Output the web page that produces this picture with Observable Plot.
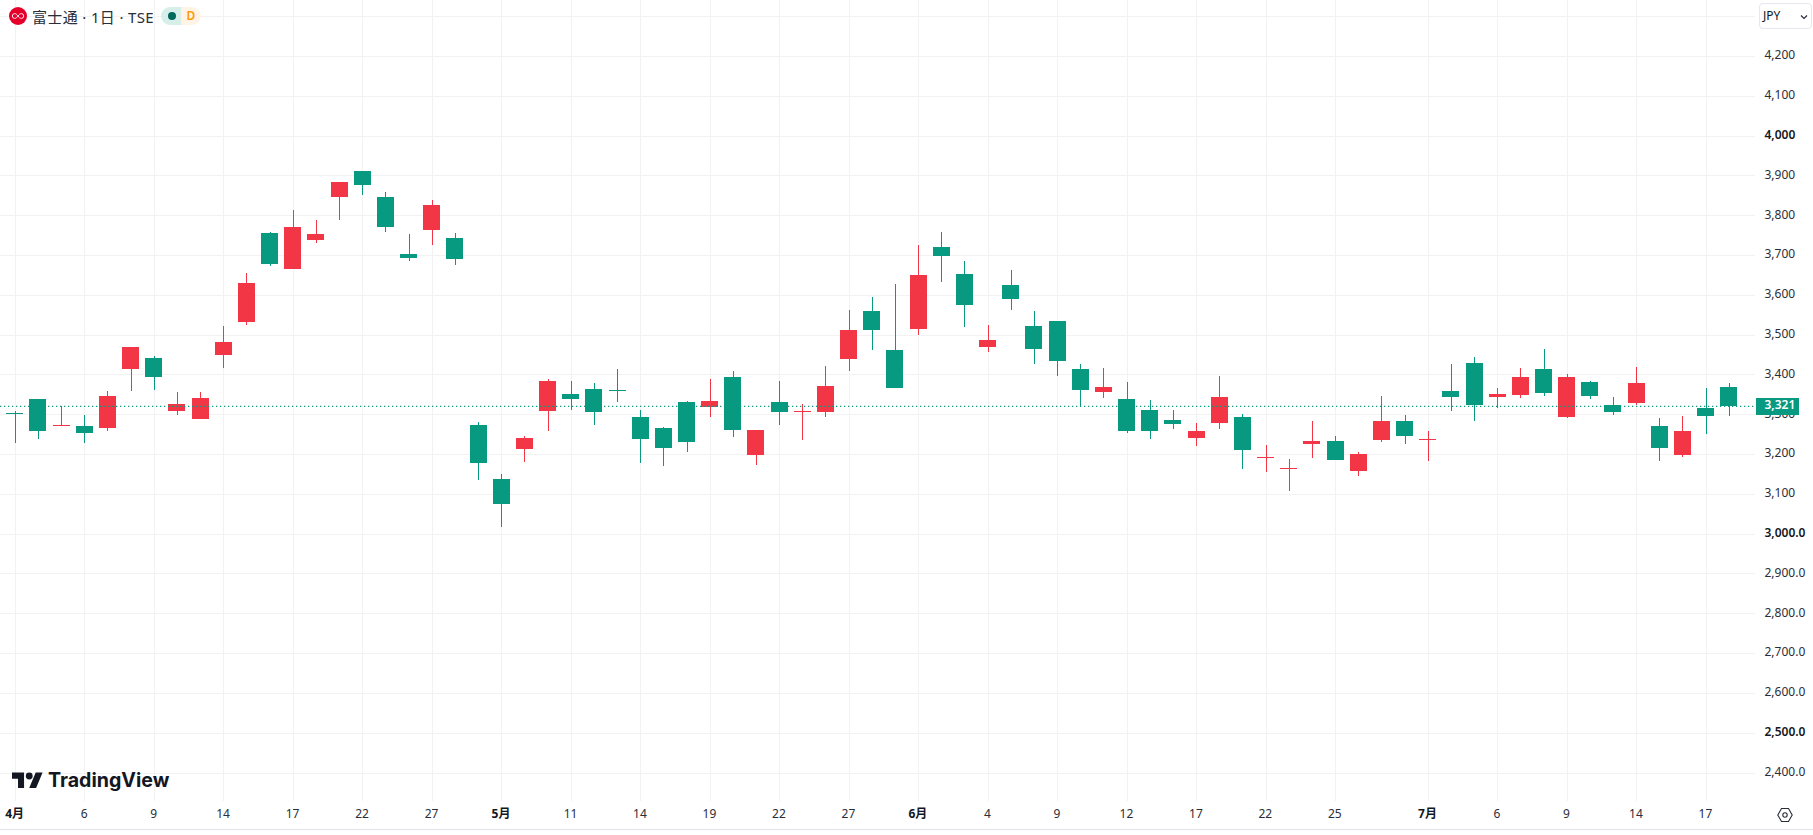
<!DOCTYPE html>
<html lang="ja">
<head>
<meta charset="utf-8">
<script src="https://cdn.jsdelivr.net/npm/d3@7"></script>
<script src="https://cdn.jsdelivr.net/npm/@observablehq/plot@0.6"></script>
<style>
  html, body { margin: 0; padding: 0; background: #fff; overflow: hidden; }
  #wrap { position: relative; width: 1813px; height: 835px; font-family: "Noto Sans", "Noto Sans CJK JP", sans-serif; color: #2a2e39; overflow: hidden; }
  #chart svg { display: block; }
  .abs { position: absolute; }
  #title { left: 32px; top: 6px; font-size: 15px; line-height: 22px; white-space: nowrap; letter-spacing: 0.35px; }
  #pill { left: 161px; top: 7px; width: 40px; height: 18px; border-radius: 9px; overflow: hidden; display: flex; }
  #pill .l { width: 20px; background: #d6efe9; position: relative; }
  #pill .l i { position: absolute; left: 7px; top: 5px; width: 8px; height: 8px; border-radius: 50%; background: #00695c; }
  #pill .r { width: 20px; background: #fff3e5; color: #ff9800; font-size: 12px; font-weight: 600; line-height: 18px; text-align: center; }
  #cur { left: 1759px; top: 3px; height: 24px; border: 1px solid #e6e8ee; border-radius: 4px; font-size: 12px; line-height: 24px; padding-left: 3px; width: 48px; color: #131722; }
  #logoText { left: 48px; top: 766px; font-family: Inter, "Noto Sans", sans-serif; font-weight: 700; font-size: 19.600px; line-height: 28px; color: #131722; letter-spacing: 0; }
  #base { left: 0; top: 829px; width: 1813px; height: 1px; background: #e0e3eb; }
</style>
</head>
<body>
<div id="wrap">
  <div id="chart"></div>
  <svg class="abs" style="left:9px;top:7px" width="18" height="18" viewBox="0 0 18 18"><circle cx="9" cy="9" r="9" fill="#e4002b"/><path d="M9 9c-1.2-1.7-2.2-2.4-3.3-2.4A2.4 2.4 0 0 0 5.700 11.400C6.800 11.400 7.800 10.700 9 9c1.200-1.700 2.200-2.400 3.300-2.400a2.400 2.400 0 0 1 0 4.800C11.200 11.400 10.200 10.700 9 9z" fill="none" stroke="#fff" stroke-width="0.900"/></svg>
  <div id="title" class="abs">富士通 · 1日 · TSE</div>
  <div id="pill" class="abs"><div class="l"><i></i></div><div class="r">D</div></div>
  <div id="cur" class="abs">JPY<svg class="abs" style="left:40px;top:10px" width="8" height="6" viewBox="0 0 8 6"><path d="M1 1.500 4 4.500 7 1.500" fill="none" stroke="#2a2e39" stroke-width="1.200"/></svg></div>
  <svg class="abs" style="left:12px;top:769px" width="31" height="21" viewBox="0 0 36 24"><path fill="#131722" d="M14 22H7V11H0V4h14v18zM28 22h-8l7.500-18h8L28 22z"/><circle fill="#131722" cx="20" cy="8" r="4"/></svg>
  <div id="logoText" class="abs">TradingView</div>
  <svg class="abs" style="left:1776px;top:806px" width="18" height="18" viewBox="0 0 18 18"><path d="M5.500 2.500h7L16.200 9l-3.700 6.500h-7L1.800 9z" fill="none" stroke="#2a2e39" stroke-width="1.100"/><circle cx="9" cy="9" r="2.200" fill="none" stroke="#2a2e39" stroke-width="1.100"/></svg>
  <div id="base" class="abs"></div>
</div>
<script>
// Candle values, one entry per trading day
const opens  = [3302,3338,3271,3271,3266,3414,3441,3308,3288,3449,3532,3755,3665,3738,3846,3911,3846,3702,3763,3743,
                3273,3138,3213,3308,3351,3364,3360,3293,3266,3331,3318,3394,3198,3331,3305,3306,3439,3559,3461,3514,
                3720,3652,3469,3625,3522,3534,3414,3356,3338,3311,3286,3241,3278,3293,3189,3162,3225,3233,3158,3236,
                3283,3236,3359,3429,3343,3348,3414,3293,3381,3323,3328,3271,3198,3316,3369];
const highs  = [3308,3338,3321,3298,3359,3469,3446,3356,3356,3522,3655,3758,3813,3788,3883,3911,3858,3753,3838,3755,
                3281,3150,3246,3389,3384,3379,3414,3311,3268,3333,3389,3409,3261,3384,3326,3421,3562,3595,3627,3725,
                3758,3685,3524,3662,3559,3534,3426,3416,3381,3336,3311,3278,3396,3301,3223,3188,3283,3246,3205,3346,
                3298,3258,3426,3444,3366,3416,3464,3401,3384,3343,3419,3291,3296,3366,3379];
const lows   = [3228,3238,3271,3228,3258,3359,3361,3298,3288,3416,3524,3672,3665,3730,3788,3851,3758,3685,3725,3675,
                3135,3017,3180,3258,3311,3273,3331,3178,3170,3205,3293,3243,3173,3273,3236,3293,3409,3461,3366,3499,
                3632,3519,3456,3562,3426,3396,3318,3341,3253,3238,3263,3220,3263,3163,3155,3107,3190,3185,3145,3230,
                3225,3183,3308,3283,3316,3341,3346,3291,3338,3298,3323,3183,3193,3251,3296];
const closes = [3299.48,3258,3273.52,3253,3346,3469,3394,3326,3341,3482,3630,3677,3770,3753,3883,3876,3770,3692,3826,3690,
                3178,3075,3241,3384,3338,3306,3357.48,3238,3215,3230,3333,3261,3261,3306,3308,3371,3512,3512,3366,3650,
                3697,3574,3487,3590,3464,3434,3361,3369,3258,3258,3276,3258,3343,3210,3191.52,3164.52,3233,3185,3200,3283,
                3246,3238.52,3343,3323,3351,3394,3353,3394,3346,3306,3379,3215,3258,3296,3321];

// Axis content
const tickDays     = [0,3,6,9,12,15,18,21,24,27,30,33,36,39,42,45,48,51,54,57,61,64,67,70,73];
const tickLabels   = ["4月","6","9","14","17","22","27","5月","11","14","19","22","27","6月","4","9","12","17","22","25","7月","6","9","14","17"];
const gridPrices   = [2400,2500,2600,2700,2800,2900,3000,3100,3200,3300,3400,3500,3600,3700,3800,3900,4000,4100,4200,4300];
const plainPrices  = [2400,2600,2700,2800,2900,3100,3200,3300,3400,3500,3600,3700,3800,3900,4100,4200];
const strongPrices = [2500,3000,4000];
const lastPrice    = 3321;

const GREEN = "#089981", RED = "#f23645", GRID = "#f2f2f3", INK = "#2a2e39";
const FONT = '"Noto Sans","Noto Sans CJK JP",sans-serif';

const rows = opens.map((o, i) => ({i, open: o, high: highs[i], low: lows[i], close: closes[i], color: closes[i] >= o ? RED : GREEN}));
const priceFormat = v => v > 3000 ? d3.format(",")(v) : d3.format(",.1f")(v);
const dayLabel = d => tickLabels[tickDays.indexOf(d)];
const isMonth = d => dayLabel(d).endsWith("月");
const halfBody = 0.367;

const axisText = {fontSize: 12, fontFamily: FONT, fill: INK};
const priceAxis = {anchor: "right", tickSize: 0, tickPadding: 9, textAnchor: "start", tickFormat: priceFormat, dy: -1, label: null};
const dayAxis = {anchor: "bottom", tickSize: 0, tickPadding: 8, tickFormat: dayLabel, dx: -0.7, label: null};

const chart = Plot.plot({
  width: 1813, height: 835,
  marginTop: 0, marginRight: 58, marginBottom: 34, marginLeft: 0,
  style: {background: "transparent", fontFamily: FONT},
  x: {domain: [0, 74], range: [14.8, 1728.8], axis: null, label: null},
  y: {domain: [2400, 4200], range: [772.5, 56], axis: null, label: null},
  marks: [
    Plot.ruleX(tickDays, {stroke: GRID, strokeWidth: 1, shapeRendering: "crispEdges"}),
    Plot.ruleY(gridPrices, {stroke: GRID, strokeWidth: 1, shapeRendering: "crispEdges"}),
    Plot.ruleX(rows, {x: "i", y1: "low", y2: "high", stroke: "color", strokeWidth: 1, shapeRendering: "crispEdges"}),
    Plot.rect(rows, {x1: d => d.i - halfBody, x2: d => d.i + halfBody, y1: "open", y2: "close", fill: "color", shapeRendering: "crispEdges"}),
    Plot.ruleY([lastPrice], {stroke: GREEN, strokeWidth: 1.3, strokeDasharray: "1.3,2.7"}),
    Plot.axisY(plainPrices,  {...priceAxis, ...axisText}),
    Plot.axisY(strongPrices, {...priceAxis, fontWeight: 600, ...axisText, fill: "#131722"}),
    Plot.axisX(tickDays.filter(d => !isMonth(d)), {...dayAxis, ...axisText}),
    Plot.axisX(tickDays.filter(isMonth), {...dayAxis, fontWeight: 700, ...axisText, fill: "#131722"}),
    Plot.ruleY([lastPrice], {stroke: GREEN, strokeWidth: 17, insetLeft: 1756, insetRight: -44}),
    Plot.axisY([lastPrice], {...priceAxis, fontSize: 12, fontFamily: FONT, fontWeight: 600, fill: "#fff"})
  ]
});
document.getElementById("chart").append(chart);
</script>
</body>
</html>
